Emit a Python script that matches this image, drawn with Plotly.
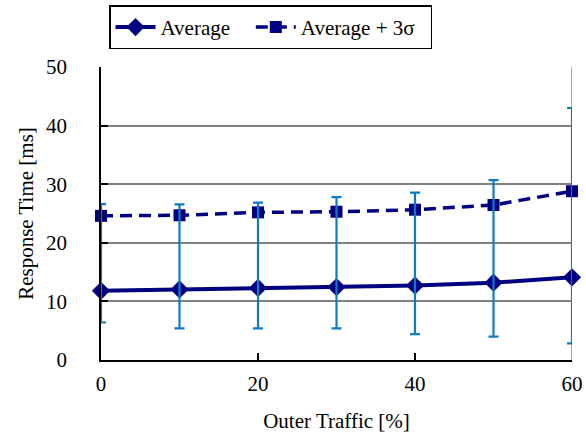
import plotly.graph_objects as go

# Response time vs. outer traffic load
traffic = [0, 10, 20, 30, 40, 50, 60]
average = [11.8, 12.05, 12.3, 12.45, 12.7, 13.2, 14.1]
average_3sigma = [24.6, 24.7, 25.2, 25.3, 25.65, 26.45, 28.8]
observed_max = [26.6, 26.55, 26.85, 27.8, 28.55, 30.7, 43.0]
observed_min = [6.4, 5.4, 5.4, 5.4, 4.4, 4.0, 2.85]
y_ticks = [0, 10, 20, 30, 40, 50]
x_ticks = [0, 20, 40, 60]

NAVY = "#000080"
BAR_BLUE = "#0C7CC8"
FONT = "Liberation Serif"
FS = 21
NBSP = "\u00a0"

err_plus = [hi - a for hi, a in zip(observed_max, average)]
err_minus = [a - lo for lo, a in zip(observed_min, average)]

fig = go.Figure()

fig.add_trace(go.Scatter(
    x=traffic, y=average, name="Average" + NBSP * 3, mode="lines+markers",
    line=dict(color=NAVY, width=4),
    marker=dict(symbol="diamond", size=14, color=NAVY),
    cliponaxis=False,
))
fig.add_trace(go.Scatter(
    x=traffic, y=average_3sigma, name="Average + 3σ" + NBSP * 2, mode="lines+markers",
    line=dict(color=NAVY, width=3.5, dash="12px,7px"),
    marker=dict(symbol="square", size=12, color=NAVY),
    cliponaxis=False,
))
# min/max range bars, drawn over both series
fig.add_trace(go.Scatter(
    x=traffic, y=average, mode="markers", showlegend=False, hoverinfo="skip",
    marker=dict(size=1, opacity=0, color=BAR_BLUE),
    error_y=dict(type="data", symmetric=False, array=err_plus, arrayminus=err_minus,
                 color=BAR_BLUE, thickness=2.2, width=5),
    cliponaxis=False,
))

# grey frame on the right side of the plot area
fig.add_shape(type="line", xref="x", yref="y", x0=60, x1=60, y0=0, y1=50,
              line=dict(color="#909090", width=1.5), layer="below")

fig.update_layout(
    width=586, height=439,
    margin=dict(l=101, r=14, t=67, b=79, autoexpand=False),
    paper_bgcolor="white", plot_bgcolor="white",
    font=dict(family=FONT, size=FS, color="black"),
    showlegend=True,
    legend=dict(orientation="h", x=0.017, xanchor="left", y=1.21, yanchor="top",
                bordercolor="black", borderwidth=1.5, bgcolor="white",
                font=dict(family=FONT, size=FS), itemwidth=40,
                tracegroupgap=0),
    xaxis=dict(range=[0, 60], tickvals=x_ticks, ticks="inside", ticklen=7,
               tickcolor="black", tickwidth=1.5, showline=True, linecolor="black",
               linewidth=1.5, showgrid=False, zeroline=False, automargin=False,
               title=dict(text="Outer Traffic [%]", standoff=18,
                          font=dict(family=FONT, size=FS)),
               tickfont=dict(family=FONT, size=FS),
               ticklabelstandoff=4),
    yaxis=dict(range=[0, 50], tickvals=y_ticks, ticks="inside", ticklen=7,
               tickcolor="black", tickwidth=1.5, showline=True, linecolor="black",
               linewidth=1.5, showgrid=True, gridcolor="#808080", gridwidth=1.5,
               zeroline=False, automargin=False,
               title=dict(text="Response Time [ms]", standoff=7,
                          font=dict(family=FONT, size=FS)),
               tickfont=dict(family=FONT, size=FS),
               ticklabelstandoff=28),
)

fig.write_html("out.html")
